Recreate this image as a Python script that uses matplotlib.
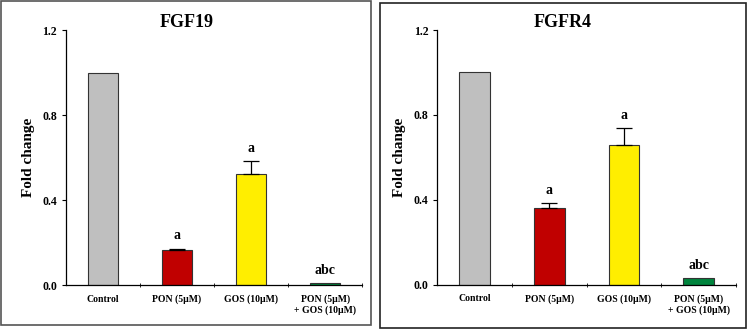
import matplotlib
matplotlib.use("Agg")
import matplotlib.pyplot as plt
from matplotlib.patches import Rectangle
from matplotlib.ticker import FormatStrFormatter, FixedLocator

plt.rcParams['font.family'] = ['Liberation Serif', 'DejaVu Serif']
plt.rcParams['font.weight'] = 'bold'

# data
groups = ["Control", "PON (5µM)", "GOS (10µM)", "PON (5µM)\n+ GOS (10µM)"]
colors = ["#BFBFBF", "#C00000", "#FFEE00", "#00843D"]

fgf19 = [1.0, 0.167, 0.522, 0.01]
fgf19_err = [0.0, 0.004, 0.06, 0.0]
fgf19_sig = ["", "a", "a", "abc"]

fgfr4 = [1.0, 0.36, 0.658, 0.03]
fgfr4_err = [0.0, 0.024, 0.08, 0.0]
fgfr4_sig = ["", "a", "a", "abc"]

fig = plt.figure(figsize=(7.48, 3.29), dpi=100)

# panel frames
fig.patches.append(Rectangle((0.002, 0.012), 0.494, 0.985, transform=fig.transFigure,
                             fill=False, edgecolor="#555555", linewidth=1.2))
fig.patches.append(Rectangle((0.508, 0.003), 0.489, 0.988, transform=fig.transFigure,
                             fill=False, edgecolor="#222222", linewidth=1.2))


def panel(rect, vals, errs, sig, title, title_x):
    ax = fig.add_axes(rect)
    x = range(len(vals))
    ax.bar(x, vals, width=0.41, color=colors, edgecolor="#333333", linewidth=0.8, zorder=2)
    for i, (v, e) in enumerate(zip(vals, errs)):
        if e > 0:
            ax.errorbar(i, v, yerr=[[0], [e]], fmt="none", ecolor="black",
                        elinewidth=0.9, capsize=6, capthick=0.9, zorder=3)
        if sig[i]:
            ax.text(i, v + e + 0.03, sig[i], ha="center", va="bottom",
                    fontsize=10, fontweight="bold")
    ax.set_xlim(-0.5, 3.5)
    ax.set_ylim(0, 1.2)
    ax.set_yticks([0, 0.4, 0.8, 1.2])
    ax.yaxis.set_major_formatter(FormatStrFormatter("%.1f"))
    ax.set_xticks(list(x))
    ax.set_xticklabels(groups, fontsize=7, fontweight="bold")
    ax.xaxis.set_minor_locator(FixedLocator([0.5, 1.5, 2.5, 3.5]))
    ax.tick_params(axis="x", which="major", length=0, pad=7)
    ax.tick_params(axis="x", which="minor", length=3, direction="inout")
    ax.tick_params(axis="y", length=3, direction="out", labelsize=8.5)
    for lbl in ax.get_yticklabels():
        lbl.set_fontweight("bold")
    for s in ["top", "right"]:
        ax.spines[s].set_visible(False)
    ax.spines["left"].set_linewidth(0.9)
    ax.spines["bottom"].set_linewidth(0.9)
    ax.set_ylabel("Fold change", fontsize=11, fontweight="bold", labelpad=5)
    fig.text(title_x, 0.933, title, ha="center", va="center", fontsize=13, fontweight="bold")
    return ax


panel([0.0882, 0.1337, 0.396, 0.775], fgf19, fgf19_err, fgf19_sig, "FGF19", 0.249)
panel([0.5846, 0.1347, 0.3994, 0.774], fgfr4, fgfr4_err, fgfr4_sig, "FGFR4", 0.752)

fig.savefig("out.png", dpi=100)
